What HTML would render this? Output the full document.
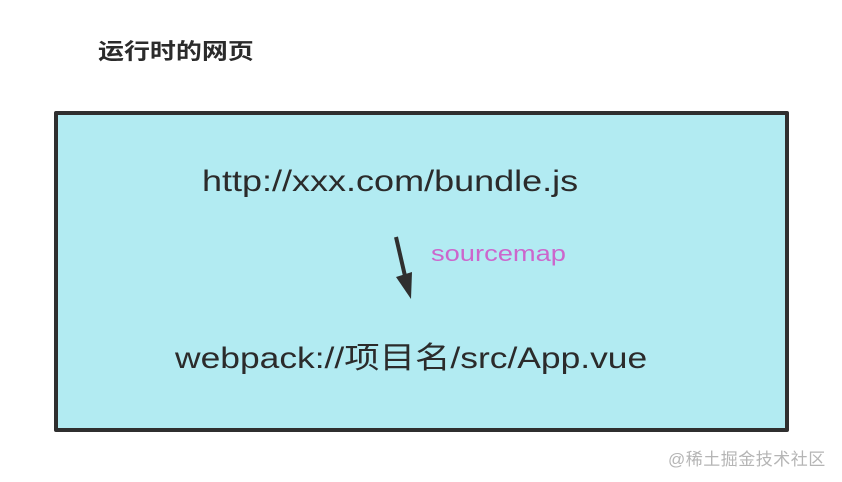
<!DOCTYPE html>
<html><head><meta charset="utf-8"><style>
body{margin:0;width:842px;height:482px;background:#fff;position:relative;overflow:hidden;font-family:"Liberation Sans","Noto Sans CJK SC",sans-serif;}
.t{position:absolute;white-space:nowrap;color:#2b2b2b;transform-origin:0 0;}
#box{position:absolute;left:54px;top:111px;width:727px;height:313px;border:4px solid #2f2f2f;background:#b2ebf2;border-radius:2px;}
</style></head><body>
<div class="t" style="left:98px;top:34px;font-size:22px;font-weight:bold;transform:scaleX(1.18);">运行时的网页</div>
<div id="box"></div>
<div class="t" style="left:202px;top:165px;font-size:30px;transform:scaleX(1.2);">http://xxx.com/bundle.js</div>
<div class="t" style="left:431px;top:241px;font-size:22px;transform:scaleX(1.24);color:#cc66cc;">sourcemap</div>
<svg style="position:absolute;left:0;top:0" width="842" height="482">
<line x1="396" y1="237" x2="405" y2="276" stroke="#2f2f2f" stroke-width="4"/>
<polygon points="396,277 412,272 411,299" fill="#2f2f2f"/>
</svg>
<div class="t" style="left:175px;top:333px;font-size:30px;transform:scaleX(1.18);">webpack://项目名/src/App.vue</div>
<div class="t" style="left:668px;top:445px;font-size:17px;letter-spacing:0.5px;color:#b5b5b5;">@稀土掘金技术社区</div>
</body></html>
